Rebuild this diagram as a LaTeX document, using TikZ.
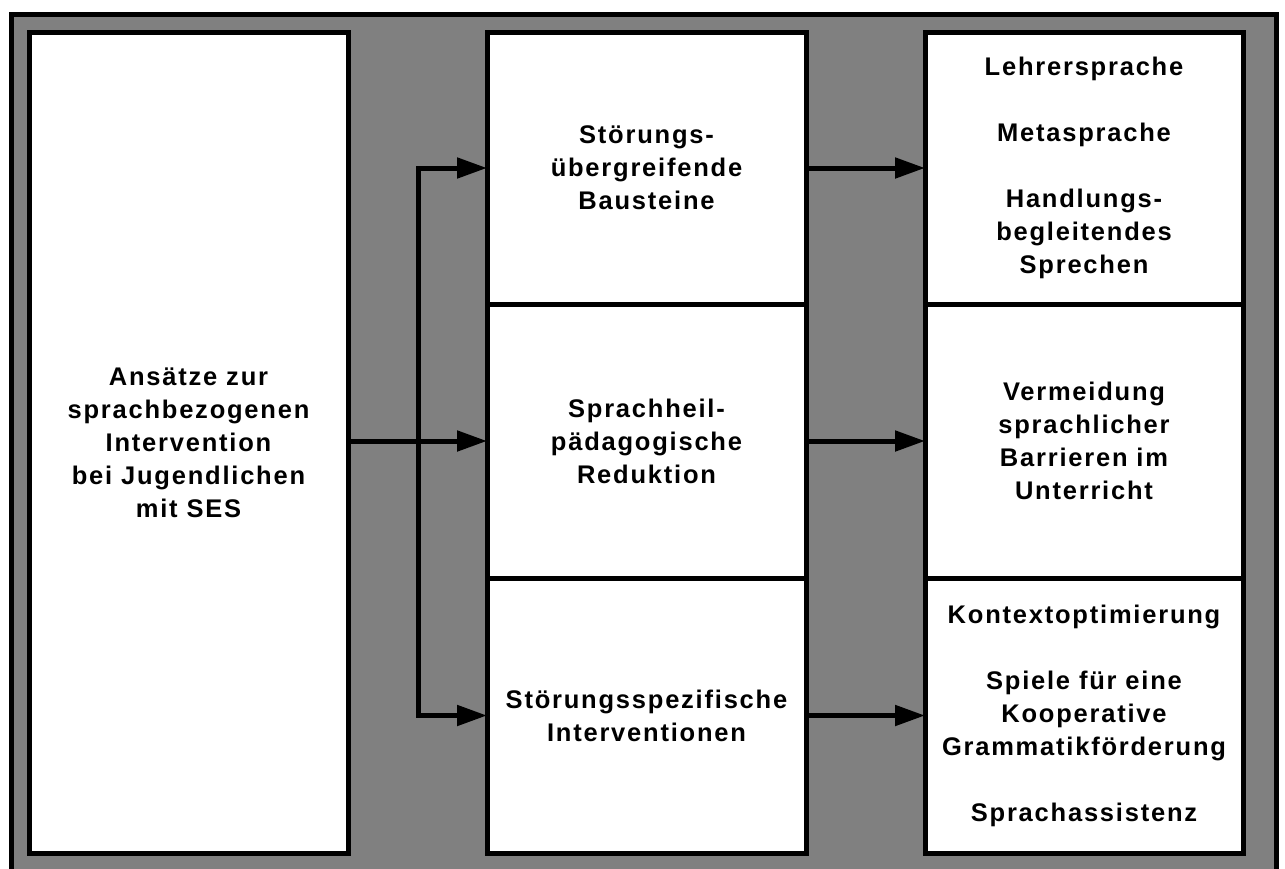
\documentclass[tikz,border=0pt]{standalone}
\usepackage{fontspec}
\setmainfont{Liberation Sans}[LetterSpace=7]
\usetikzlibrary{arrows.meta,positioning}
\definecolor{bggray}{RGB}{128,128,128}
\tikzset{
  %% white block
  blk/.style={rectangle,draw=black,fill=white,line width=5pt,outer sep=0pt,
    minimum width=319pt,inner sep=0pt,align=center,
    font=\fontsize{25.5}{33}\selectfont\bfseries},
  %% arrows
  arr/.style={-{Triangle[length=30pt,width=20pt]},line width=5pt},
}

\begin{document}
\begin{tikzpicture}[x=1pt,y=-1pt]
  \useasboundingbox (0,0) rectangle (1285,868);
  \clip (0,0) rectangle (1285,868);
  %% grey frame
  \draw[line width=5pt,fill=bggray] (11,14) rectangle (1276,890);

  \node[blk,minimum height=821pt,anchor=north west] (src) at (29,32)
    {Ansätze zur\\sprachbezogenen\\Intervention\\bei Jugendlichen\\mit SES};

  %% middle column
  \node[blk,minimum height=272pt,right=139pt of src.north east,anchor=north west] (gen)
    {Störungs-\\übergreifende\\Bausteine};
  \node[blk,minimum height=274pt,below=0pt of gen] (red)
    {Sprachheil-\\pädagogische\\Reduktion};
  \node[blk,minimum height=275pt,below=0pt of red] (spez)
    {Störungsspezifische\\Interventionen};

  %% right column
  \node[blk,minimum width=318pt,minimum height=272pt,right=119pt of gen.north east,anchor=north west] (lehr)
    {Lehrersprache\\[33pt]Metasprache\\[33pt]Handlungs-\\begleitendes\\Sprechen};
  \node[blk,minimum width=318pt,minimum height=274pt,below=0pt of lehr] (verm)
    {Vermeidung\\sprachlicher\\Barrieren im\\Unterricht};
  \node[blk,minimum width=318pt,minimum height=275pt,below=0pt of verm] (kont)
    {Kontextoptimierung\\[33pt]Spiele für eine\\Kooperative\\Grammatikförderung\\[33pt]Sprachassistenz};

  %% connectors
  \coordinate[right=70pt of src.east] (jn);
  \draw[arr] (src.east |- red.west) -- (red.west);
  \draw[arr] (jn |- red.west) |- (gen.west);
  \draw[arr] (jn |- red.west) |- (spez.west);
  \draw[arr] (gen) -- (lehr);
  \draw[arr] (red) -- (verm);
  \draw[arr] (spez) -- (kont);
\end{tikzpicture}
\end{document}
